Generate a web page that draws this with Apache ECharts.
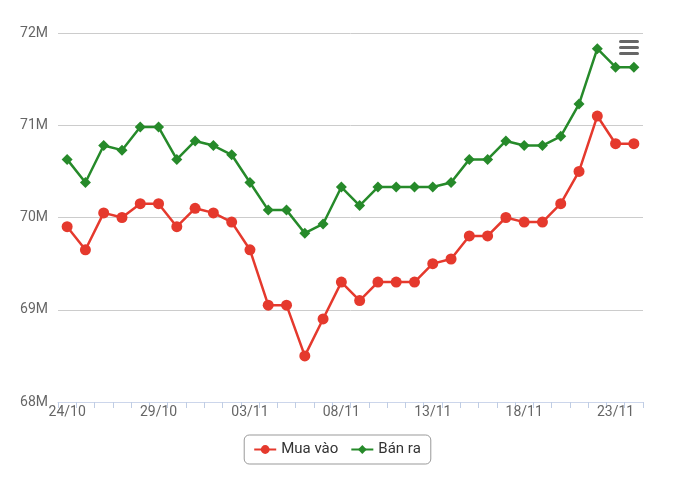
<!DOCTYPE html>
<html><head><meta charset="utf-8">
<script src="https://cdn.jsdelivr.net/npm/echarts@6/dist/echarts.min.js"></script>
<style>html,body{margin:0;padding:0;background:#fff}#c{width:674px;height:479px}</style>
</head><body><div id="c"></div>
<script>
const categories = ['24/10','25/10','26/10','27/10','28/10','29/10','30/10','31/10','01/11','02/11','03/11','04/11','05/11','06/11','07/11','08/11','09/11','10/11','11/11','12/11','13/11','14/11','15/11','16/11','17/11','18/11','19/11','20/11','21/11','22/11','23/11','24/11'];
const muaVao = [69.9,69.65,70.05,70.0,70.15,70.15,69.9,70.1,70.05,69.95,69.65,69.05,69.05,68.5,68.9,69.3,69.1,69.3,69.3,69.3,69.5,69.55,69.8,69.8,70.0,69.95,69.95,70.15,70.5,71.1,70.8,70.8];
const banRa = [70.63,70.38,70.78,70.73,70.98,70.98,70.63,70.83,70.78,70.68,70.38,70.08,70.08,69.83,69.93,70.33,70.13,70.33,70.33,70.33,70.33,70.38,70.63,70.63,70.83,70.78,70.78,70.88,71.23,71.83,71.63,71.63];
const yTicks = [68,69,70,71,72];

const chart = echarts.init(document.getElementById('c'));
chart.setOption({
  animation: false,
  grid: {left: 58, right: 31, top: 33, bottom: 77},
  legend: {
    bottom: 15, left: 'center',
    data: ['Mua vào', 'Bán ra'],
    borderColor: '#999', borderWidth: 1, borderRadius: 5, padding: [7, 10, 7, 9],
    itemWidth: 22, itemHeight: 11, itemGap: 12,
    textStyle: {color: '#333', fontSize: 15, fontFamily: 'Roboto'}
  },
  xAxis: {
    type: 'category', data: categories, boundaryGap: true,
    axisLine: {lineStyle: {color: '#ccd6eb'}},
    axisTick: {show: true, interval: 0, length: 6, lineStyle: {color: '#c0cde4'}},
    axisLabel: {interval: 4, color: '#666', fontSize: 14, fontFamily: 'Roboto', margin: 3}
  },
  yAxis: {
    type: 'value', min: yTicks[0], max: yTicks[yTicks.length-1], interval: 1,
    axisLabel: {formatter: v => v + 'M', color: '#666', fontSize: 14, fontFamily: 'Roboto', margin: 10},
    splitLine: {lineStyle: {color: '#ccc'}},
    axisLine: {show: false}, axisTick: {show: false}
  },
  series: [
    {name: 'Mua vào', type: 'line', data: muaVao, symbol: 'circle', symbolSize: 11,
     itemStyle: {color: '#e5392d'}, lineStyle: {width: 2.5, color: '#e5392d'}},
    {name: 'Bán ra', type: 'line', data: banRa, symbol: 'diamond', symbolSize: 11,
     itemStyle: {color: '#268a2a'}, lineStyle: {width: 2.5, color: '#268a2a'}}
  ],
  graphic: [{
    type: 'group', left: 619, top: 40,
    children: [
      {type:'rect', shape:{x:0,y:0,width:20,height:3,r:1.5}, style:{fill:'#666'}},
      {type:'rect', shape:{x:0,y:6,width:20,height:3,r:1.5}, style:{fill:'#666'}},
      {type:'rect', shape:{x:0,y:12,width:20,height:3,r:1.5}, style:{fill:'#666'}}
    ]
  }]
});
</script></body></html>
